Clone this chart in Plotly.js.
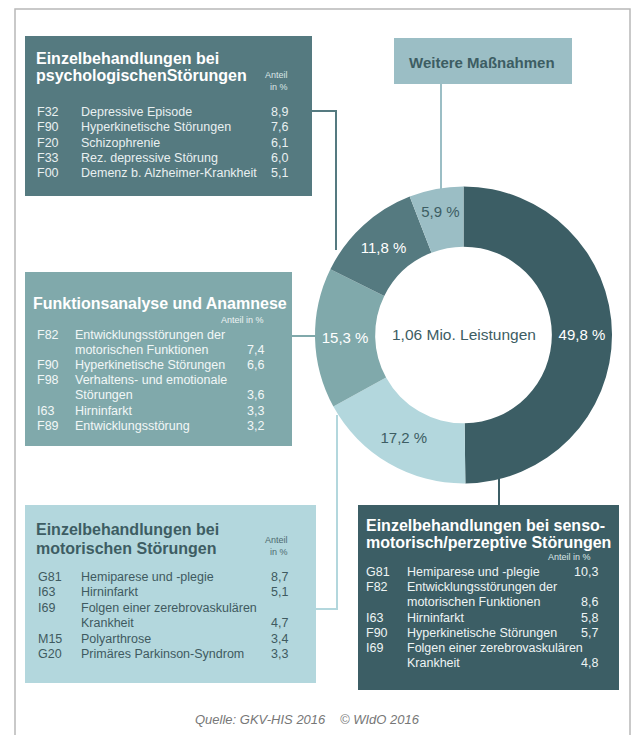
<!DOCTYPE html>
<html><head><meta charset="utf-8">
<script src="https://cdn.plot.ly/plotly-3.0.1.min.js"></script>
<style>html,body{margin:0;padding:0;background:#fff}</style>
</head><body><div id="chart" style="width:637px;height:735px"></div>
<script>
// ---------- DATA ----------
const sliceNames = ['Einzelbehandlungen bei senso-motorisch/perzeptive Störungen',
  'Einzelbehandlungen bei motorischen Störungen',
  'Funktionsanalyse und Anamnese',
  'Einzelbehandlungen bei psychologischen Störungen',
  'Weitere Maßnahmen'];
const sliceValues = [49.8, 17.2, 15.3, 11.8, 5.9];
const centerLabel = '1,06 Mio. Leistungen';

const psychTitle = ['Einzelbehandlungen bei', 'psychologischenStörungen'];
const psychCodes = ['F32', 'F90', 'F20', 'F33', 'F00'];
const psychLabels = ['Depressive Episode', 'Hyperkinetische Störungen', 'Schizophrenie',
  'Rez. depressive Störung', 'Demenz b. Alzheimer-Krankheit'];
const psychValues = [8.9, 7.6, 6.1, 6.0, 5.1];

const funkTitle = ['Funktionsanalyse und Anamnese'];
const funkCodes = ['F82', 'F90', 'F98', 'I63', 'F89'];
const funkLabels = ['Entwicklungsstörungen der<br>motorischen Funktionen', 'Hyperkinetische Störungen',
  'Verhaltens- und emotionale<br>Störungen', 'Hirninfarkt', 'Entwicklungsstörung'];
const funkValues = [7.4, 6.6, 3.6, 3.3, 3.2];

const motTitle = ['Einzelbehandlungen bei', 'motorischen Störungen'];
const motCodes = ['G81', 'I63', 'I69', 'M15', 'G20'];
const motLabels = ['Hemiparese und -plegie', 'Hirninfarkt', 'Folgen einer zerebrovaskulären<br>Krankheit',
  'Polyarthrose', 'Primäres Parkinson-Syndrom'];
const motValues = [8.7, 5.1, 4.7, 3.4, 3.3];

const sensTitle = ['Einzelbehandlungen bei senso-', 'motorisch/perzeptive Störungen'];
const sensCodes = ['G81', 'F82', 'I63', 'F90', 'I69'];
const sensLabels = ['Hemiparese und -plegie', 'Entwicklungsstörungen der<br>motorischen Funktionen', 'Hirninfarkt',
  'Hyperkinetische Störungen', 'Folgen einer zerebrovaskulären<br>Krankheit'];
const sensValues = [10.3, 8.6, 5.8, 5.7, 4.8];

const weitereTitle = 'Weitere Maßnahmen';
const sourceText = 'Quelle: GKV-HIS 2016';
const copyrightText = '© WIdO 2016';

// ---------- STYLE ----------
const W = 637, H = 735;
const C_DARK = '#3c5e65', C_DMID = '#557a80', C_MID = '#80a9ab', C_LIGHT = '#b3d7dd', C_GREY = '#9bbec5';
const sliceColors = [C_DARK, C_LIGHT, C_MID, C_DMID, C_GREY];
const sliceTextColors = ['#ffffff', '#3d5d63', '#ffffff', '#ffffff', '#3d5d63'];
const FONT = 'Liberation Sans, Arial, sans-serif';
const px = x => x / W, py = y => 1 - y / H;
const fmt = v => v.toFixed(1).replace('.', ',');

const shapes = [], annotations = [];
function rect(x0, y0, x1, y1, color) {
  shapes.push({type: 'rect', xref: 'paper', yref: 'paper', x0: px(x0), x1: px(x1), y0: py(y0), y1: py(y1),
    fillcolor: color, line: {width: 0}, layer: 'below'});
}
function path(pts, color, w) {
  const d = pts.map((p, i) => (i ? 'L' : 'M') + px(p[0]) + ',' + py(p[1])).join(' ');
  shapes.push({type: 'path', xref: 'paper', yref: 'paper', path: d, line: {color: color, width: w}, layer: 'below'});
}
function text(t, x, y, o) {
  annotations.push(Object.assign({text: t, x: px(x), y: py(y), xref: 'paper', yref: 'paper', showarrow: false,
    xanchor: 'left', yanchor: 'middle', font: {family: FONT, size: 12, color: '#fff'}}, o || {}));
}
function box(c) {
  rect(c.x0, c.y0, c.x1, c.y1, c.fill);
  c.title.forEach((t, i) => text('<b>' + t + '</b>', c.titleX, c.titleY[i], {font: {family: FONT, size: 16, color: c.titleColor}}));
  c.anteil.forEach((t, i) => text(t, c.anteilX, c.anteilY[i], {xanchor: 'right', font: {family: FONT, size: 9, color: c.smallColor}}));
  let y = c.rowY;
  c.codes.forEach((code, i) => {
    const lines = c.labels[i].split('<br>');
    text(code, c.codeX, y, {font: {family: FONT, size: 12.5, color: c.textColor}});
    lines.forEach((l, j) => text(l, c.labelX, y + j * c.lh, {font: {family: FONT, size: 12.5, color: c.textColor}}));
    y += (lines.length - 1) * c.lh;
    text(fmt(c.values[i]), c.valueX, y, {xanchor: 'right', font: {family: FONT, size: 12.5, color: c.textColor}});
    y += c.lh;
  });
}

// outer frame
path([[15, 740], [15, 9], [630, 9], [630, 740]], '#b8b8b8', 1.5);

// connector lines
path([[312, 111], [336, 111], [336, 250]], C_DMID, 2);
path([[292, 336], [318, 336]], C_MID, 2);
path([[316, 609], [337, 609], [337, 415]], C_LIGHT, 2);
path([[499, 475], [499, 506]], C_DARK, 2);
path([[441, 84], [441, 192]], C_GREY, 2);

box({x0: 25, y0: 36, x1: 312, y1: 196, fill: C_DMID, title: psychTitle, titleX: 34, titleY: [58, 76], titleColor: '#ffffff',
  anteil: ['Anteil', 'in %'], anteilX: 290, anteilY: [75, 87], smallColor: '#dbe6e7',
  codes: psychCodes, labels: psychLabels, values: psychValues, rowY: 112, lh: 15.3, codeX: 35, labelX: 79, valueX: 290, textColor: '#e9f0f1'});
box({x0: 25, y0: 272, x1: 292, y1: 446, fill: C_MID, title: funkTitle, titleX: 31, titleY: [303], titleColor: '#ffffff',
  anteil: ['Anteil in %'], anteilX: 266, anteilY: [320], smallColor: '#eef4f4',
  codes: funkCodes, labels: funkLabels, values: funkValues, rowY: 335, lh: 15.1, codeX: 35, labelX: 73, valueX: 266, textColor: '#f2f7f7'});
box({x0: 25, y0: 505, x1: 316, y1: 683, fill: C_LIGHT, title: motTitle, titleX: 34, titleY: [529, 548], titleColor: '#3d5d63',
  anteil: ['Anteil', 'in %'], anteilX: 290, anteilY: [540, 552], smallColor: '#4e6a70',
  codes: motCodes, labels: motLabels, values: motValues, rowY: 577, lh: 15.4, codeX: 36, labelX: 79, valueX: 290, textColor: '#3f5a60'});
box({x0: 358, y0: 505, x1: 619, y1: 690, fill: C_DARK, title: sensTitle, titleX: 364, titleY: [525, 542], titleColor: '#ffffff',
  anteil: ['Anteil in %'], anteilX: 593, anteilY: [557], smallColor: '#dbe6e7',
  codes: sensCodes, labels: sensLabels, values: sensValues, rowY: 572, lh: 15.2, codeX: 364, labelX: 405, valueX: 600, textColor: '#eef4f4'});

rect(394, 38, 572, 84, C_GREY);
text('<b>' + weitereTitle + '</b>', 482, 62, {xanchor: 'center', font: {family: FONT, size: 15, color: '#3d5d63'}});

text(centerLabel, 464, 334, {xanchor: 'center', font: {family: FONT, size: 15.5, color: '#3d5d63'}});
text(sourceText, 193, 719, {font: {family: FONT, size: 13, color: '#777', style: 'italic'}});
text(copyrightText, 338, 719, {font: {family: FONT, size: 13, color: '#777', style: 'italic'}});

const cx = 463.5, cy = 335, R = 148.5;
const trace = {
  type: 'pie', labels: sliceNames, values: sliceValues, sort: false, direction: 'clockwise', rotation: 0,
  hole: 0.595, marker: {colors: sliceColors, line: {width: 0}},
  texttemplate: '%{value:.1f} %', textposition: 'inside', insidetextorientation: 'horizontal',
  textfont: {family: FONT, size: 15, color: sliceTextColors},
  domain: {x: [px(cx - R), px(cx + R)], y: [py(cy + R), py(cy - R)]},
  showlegend: false, hoverinfo: 'label+percent'
};
const layout = {
  width: W, height: H, margin: {l: 0, r: 0, t: 0, b: 0}, separators: ',.',
  paper_bgcolor: '#ffffff', plot_bgcolor: 'rgba(0,0,0,0)', showlegend: false,
  xaxis: {visible: false}, yaxis: {visible: false},
  shapes: shapes, annotations: annotations
};
Plotly.newPlot('chart', [trace], layout, {displayModeBar: false, staticPlot: true});
</script></body></html>
